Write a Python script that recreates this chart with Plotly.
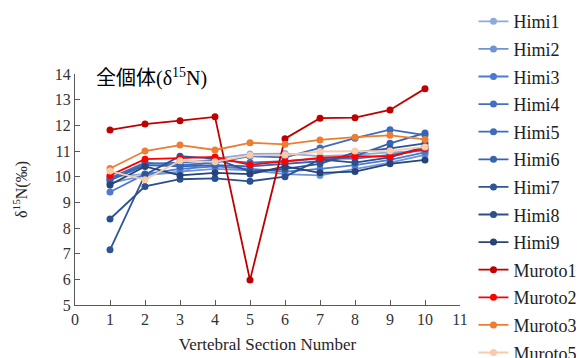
import plotly.graph_objects as go

sections = [1, 2, 3, 4, 5, 6, 7, 8, 9, 10]

series_names = ["Himi1", "Himi2", "Himi3", "Himi4", "Himi5", "Himi6", "Himi7", "Himi8", "Himi9",
                "Muroto1", "Muroto2", "Muroto3", "Muroto5"]

himi1 = [10.00, 10.10, 10.15, 10.70, 10.88, 10.90, 10.80, 10.85, 10.95, 11.00]
himi2 = [9.75, 10.05, 10.20, 10.30, 10.25, 10.10, 10.05, 10.30, 10.55, 10.85]
himi3 = [9.40, 10.10, 10.30, 10.40, 10.30, 10.20, 10.30, 10.45, 10.65, 10.95]
himi4 = [9.90, 10.50, 10.55, 10.65, 10.55, 10.60, 10.70, 10.70, 10.85, 11.05]
himi5 = [9.95, 10.55, 10.45, 10.55, 10.80, 10.75, 11.12, 11.50, 11.83, 11.62]
himi6 = [9.85, 10.45, 10.40, 10.45, 10.40, 10.50, 10.60, 10.80, 11.30, 11.70]
himi7 = [7.15, 10.08, 10.80, 10.70, 10.20, 10.30, 10.50, 10.95, 11.10, 11.30]
himi8 = [8.35, 9.62, 9.90, 9.93, 9.82, 10.00, 10.67, 10.55, 10.75, 11.18]
himi9 = [9.68, 10.40, 10.05, 10.15, 10.10, 10.40, 10.15, 10.20, 10.50, 10.65]
muroto1 = [11.82, 12.05, 12.18, 12.33, 5.97, 11.48, 12.28, 12.30, 12.60, 13.43]
muroto2 = [10.05, 10.68, 10.72, 10.77, 10.46, 10.60, 10.73, 10.80, 10.78, 11.10]
muroto3 = [10.32, 11.00, 11.23, 11.04, 11.32, 11.26, 11.43, 11.54, 11.61, 11.45]
muroto5 = [10.22, 9.88, 10.62, 10.58, 10.83, 10.84, 10.98, 11.00, 11.00, 11.16]

values = [himi1, himi2, himi3, himi4, himi5, himi6, himi7, himi8, himi9,
          muroto1, muroto2, muroto3, muroto5]

colors = ["#8EA9DB", "#6F94D6", "#4A7BD0", "#4070C0", "#3D6BBD", "#3763B0",
          "#2F5597", "#2B4F8F", "#264478",
          "#C00000", "#FF0000", "#ED7D31", "#F8CBAD"]

x_ticks = list(range(0, 12))
y_ticks = list(range(5, 15))

fig = go.Figure()
for name, vals, col in zip(series_names, values, colors):
    fig.add_trace(go.Scatter(
        x=sections, y=vals, name=name, legendgroup=name, mode="lines+markers",
        line=dict(color=col, width=1.8),
        marker=dict(color=col, size=7),
    ))

fig.add_annotation(
    text="全個体<span style='font-family:Liberation Serif'>(δ<sup>15</sup>N)</span>",
    xref="paper", yref="paper",
    x=0.05, y=0.99, xanchor="left", yanchor="middle", showarrow=False,
    font=dict(family="Noto Sans CJK JP, Liberation Serif", size=20, color="#000000"),
)

axis_font = dict(family="Liberation Serif", size=16, color="#333333")

fig.update_layout(
    width=584, height=358,
    margin=dict(l=67, r=132, t=66, b=61, autoexpand=False),
    paper_bgcolor="white", plot_bgcolor="white",
    showlegend=True,
    legend=dict(
        x=1.035, xanchor="left", y=1.307, yanchor="top",
        xref="paper", yref="paper",
        font=dict(family="Liberation Serif", size=18, color="#222222"),
        bgcolor="rgba(0,0,0,0)", borderwidth=0,
        tracegroupgap=1.2, maxheight=2000,
    ),
    xaxis=dict(
        range=[0, 11], tickvals=x_ticks, ticktext=[str(v) for v in x_ticks],
        showgrid=False, zeroline=False, showline=True, linecolor="#595959", linewidth=1,
        ticks="inside", ticklen=5, tickcolor="#595959",
        tickfont=axis_font,
        title=dict(text="Vertebral Section Number", font=dict(family="Liberation Serif", size=17, color="#262626"), standoff=10),
    ),
    yaxis=dict(
        range=[5, 14], tickvals=y_ticks, ticktext=[str(v) for v in y_ticks],
        showgrid=False, zeroline=False, showline=True, linecolor="#595959", linewidth=1,
        ticks="inside", ticklen=5, tickcolor="#595959",
        tickfont=axis_font,
        title=dict(text="δ<sup>15</sup>N(‰)", font=dict(family="Liberation Serif", size=16, color="#262626"), standoff=23),
    ),
)

fig.write_html("out.html")
